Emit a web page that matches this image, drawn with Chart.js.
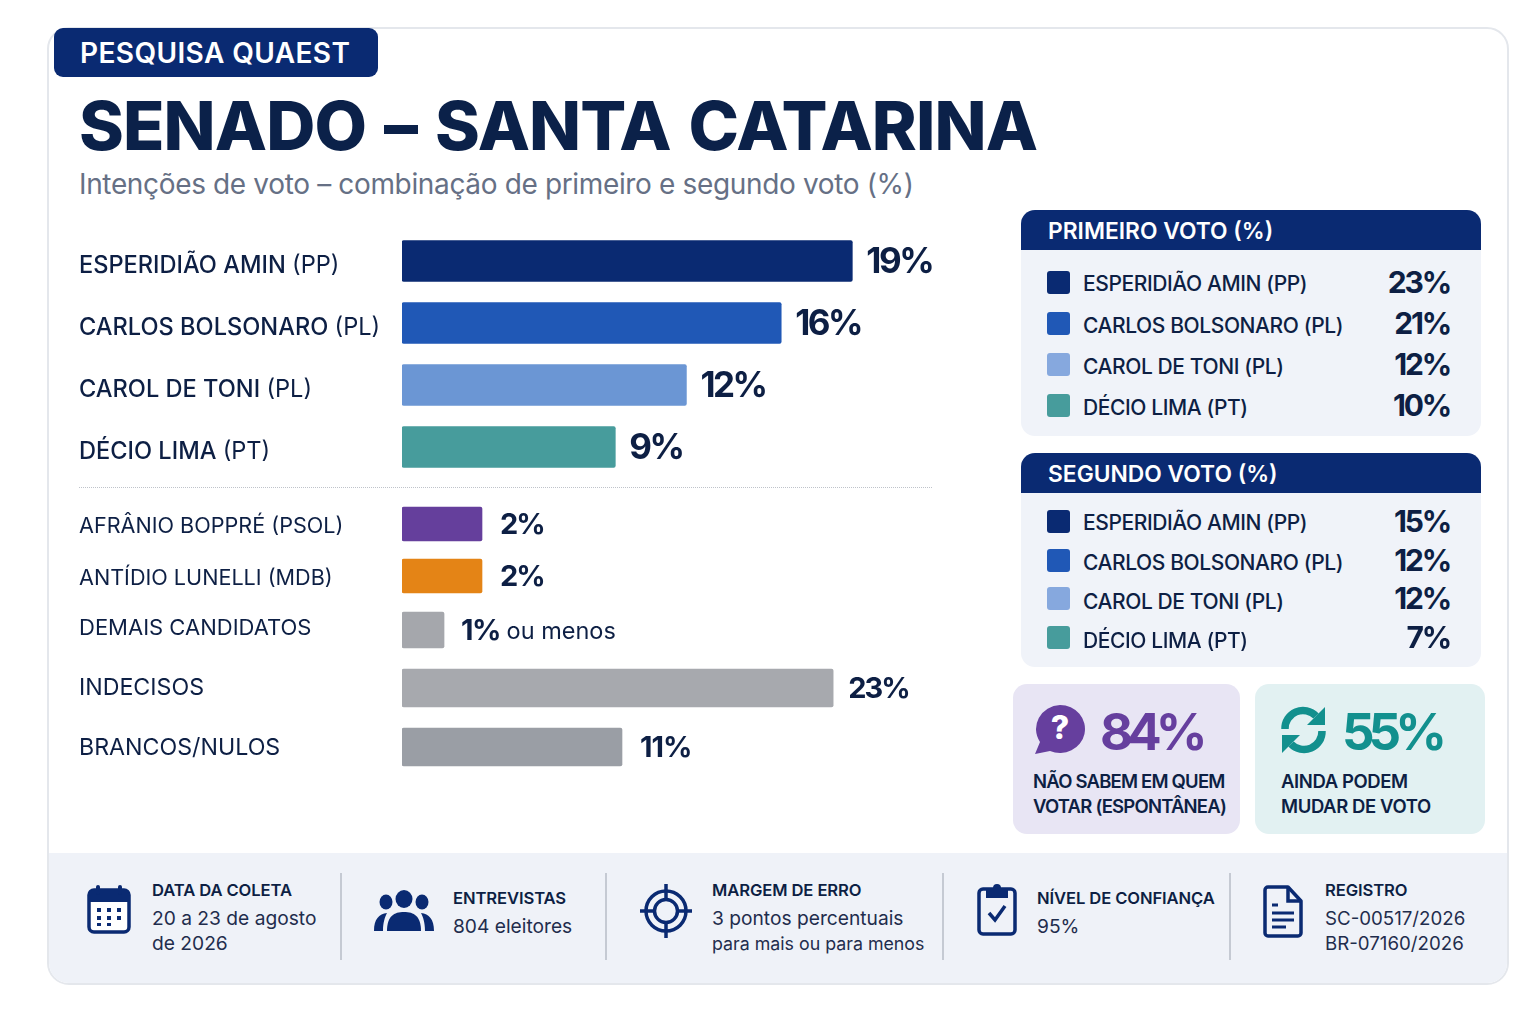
<!DOCTYPE html>
<html lang="pt">
<head>
<meta charset="utf-8">
<title>Senado - Santa Catarina</title>
<script src="https://cdn.jsdelivr.net/npm/chart.js@4"></script>
<style>
	html, body { margin: 0; background: #fff; }
	body { position: relative; width: 1536px; height: 1024px; overflow: hidden; font-family: Inter, sans-serif; color: #0d1f44; }
	.abs { position: absolute; }
	.txt { position: absolute; white-space: nowrap; transform: translateY(-50%); line-height: 1; }
	#card { left: 47px; top: 27px; width: 1458px; height: 954px; border: 2px solid #e4e7ec; border-radius: 22px; overflow: hidden; }
	#foot { left: 0; right: 0; bottom: 0; height: 130px; background: #eff2f8; }
	#badge { left: 54px; top: 28px; width: 324px; height: 49px; background: #0a2a72; border-radius: 9px; }
	canvas { position: absolute; }
</style>
</head>
<body>
<div class="abs" id="card"><div class="abs" id="foot"></div></div>
<div class="abs" id="badge"></div>
<div id="layer"></div>

<script>
// DATA
// ================================================================
var title = 'SENADO – SANTA CATARINA';
var subtitle = 'Intenções de voto – combinação de primeiro e segundo voto (%)';

var candidates = ['ESPERIDIÃO AMIN', 'CARLOS BOLSONARO', 'CAROL DE TONI', 'DÉCIO LIMA', 'AFRÂNIO BOPPRÉ', 'ANTÍDIO LUNELLI', 'DEMAIS CANDIDATOS', 'INDECISOS', 'BRANCOS/NULOS'];
var parties = ['(PP)', '(PL)', '(PL)', '(PT)', '(PSOL)', '(MDB)', '', '', ''];
var combined = [19, 16, 12, 9, 2, 2, 1, 23, 11];
var valueSuffix = ['', '', '', '', '', '', ' ou menos', '', ''];
var barColors = ['#0a2a72', '#2058b6', '#6b96d4', '#479c9c', '#653f9c', '#e48416', '#a5a7ac', '#a7a9ae', '#9a9ea5'];

var panelNames = ['ESPERIDIÃO AMIN (PP)', 'CARLOS BOLSONARO (PL)', 'CAROL DE TONI (PL)', 'DÉCIO LIMA (PT)'];
var panelColors = ['#0a2a72', '#2058b6', '#86a8de', '#479c9c'];
var firstVote = [23, 21, 12, 10];
var secondVote = [15, 12, 12, 7];

var dontKnow = 84;
var mayChange = 55;

var footTitles = ['DATA DA COLETA', 'ENTREVISTAS', 'MARGEM DE ERRO', 'NÍVEL DE CONFIANÇA', 'REGISTRO'];
var footLines = [
	['20 a 23 de agosto', 'de 2026'],
	['804 eleitores'],
	['3 pontos percentuais', 'para mais ou para menos'],
	['95%'],
	['SC-00517/2026', 'BR-07160/2026']
];


// Layout
// ================================================================
var layer = document.getElementById('layer');
var AXIS_WIDTH = 323, CHART_LEFT = 79, CHART_WIDTH = 861;

function put(text, x, y, css) {
	var el = document.createElement('div');
	el.className = 'txt';
	el.textContent = text;
	el.style.cssText = 'left:' + x + 'px;top:' + y + 'px;' + css;
	layer.appendChild(el);
	return el;
}

function box(x, y, w, h, css) {
	var el = document.createElement('div');
	el.className = 'abs';
	el.style.cssText = 'left:' + x + 'px;top:' + y + 'px;width:' + w + 'px;height:' + h + 'px;' + css;
	layer.appendChild(el);
}

function icon(x, y, w, h, inner) {
	var el = document.createElement('div');
	el.className = 'abs';
	el.style.cssText = 'left:' + x + 'px;top:' + y + 'px;width:' + w + 'px;height:' + h + 'px;';
	el.innerHTML = '<svg xmlns="http://www.w3.org/2000/svg" width="' + w + '" height="' + h + '" viewBox="0 0 ' + w + ' ' + h + '">' + inner + '</svg>';
	layer.appendChild(el);
}

put('PESQUISA QUAEST', 80, 53, 'font-size:28px;font-weight:600;color:#fff;letter-spacing:.4px;');
put(title, 79, 125, 'font-size:68px;font-weight:800;color:#0b2149;letter-spacing:-.9px;word-spacing:4px;');
put(subtitle, 79, 184, 'font-size:28px;font-weight:400;color:#667085;letter-spacing:-.35px;');
box(79, 487, 853, 0, 'border-top:1px dotted #bfc3ca;');


// Bars
// The picture does not keep one scale for all bars, so each block gets its own
// ================================================================
var blocks = [
	{ from: 0, to: 4, top: 230, rowH: 62, bar: 41, xMax: 22.7, font: 23.6, weight: 500, valueFont: 35, spacing: -2.5, gap: 14, shift: 5 },
	{ from: 4, to: 6, top: 498, rowH: 52, bar: 34, xMax: 13.45, font: 21.6, weight: 400, valueFont: 29, spacing: -2, gap: 18, shift: 2 },
	{ from: 6, to: 7, top: 600, rowH: 60, bar: 36, xMax: 12.8, font: 22, weight: 400, valueFont: 29, spacing: -1.5, gap: 17, shift: -2 },
	{ from: 7, to: 8, top: 658, rowH: 60, bar: 38, xMax: 28.7, font: 23.2, weight: 400, valueFont: 29, spacing: -2, gap: 15, shift: 0 },
	{ from: 8, to: 9, top: 717, rowH: 60, bar: 38, xMax: 26.9, font: 23.2, weight: 400, valueFont: 29, spacing: -1, gap: 18, shift: 1 }
];

function barLabels(block) {
	return {
		id: 'barLabels',
		afterDraw: function (chart) {
			var ctx = chart.ctx, meta = chart.getDatasetMeta(0), yAxis = chart.scales.y;
			var shares = chart.data.datasets[0].data;
			ctx.save();
			ctx.textBaseline = 'middle';
			ctx.textAlign = 'left';
			ctx.fillStyle = '#0d1f44';
			meta.data.forEach(function (el, i) {
				var n = block.from + i;
				// value at the end of the bar
				var x = el.x + block.gap;
				ctx.font = '700 ' + block.valueFont + 'px Inter';
				ctx.letterSpacing = block.spacing + 'px';
				var txt = shares[i] + '%';
				ctx.fillText(txt, x, el.y + 1);
				var w = ctx.measureText(txt).width;
				ctx.letterSpacing = '0px';
				if (valueSuffix[n]) {
					ctx.font = '400 23.5px Inter';
					ctx.fillText(valueSuffix[n], x + w, el.y + 2);
				}
				// party after the name on the axis, lighter
				if (parties[n]) {
					ctx.font = block.weight + ' ' + block.font + 'px Inter';
					var nameW = ctx.measureText(candidates[n] + ' ').width;
					ctx.font = '400 ' + block.font + 'px Inter';
					ctx.fillText(parties[n], yAxis.left + nameW, yAxis.getPixelForTick(i) + block.shift);
				}
			});
			ctx.restore();
		}
	};
}

blocks.forEach(function (block) {
	var canvas = document.createElement('canvas');
	var holder = document.createElement('div');
	holder.className = 'abs';
	holder.style.cssText = 'left:' + CHART_LEFT + 'px;top:' + block.top + 'px;width:' + CHART_WIDTH + 'px;height:' + (block.rowH * (block.to - block.from)) + 'px;';
	holder.appendChild(canvas);
	layer.appendChild(holder);

	new Chart(canvas.getContext('2d'), {
		type: 'bar',
		plugins: [barLabels(block)],
		data: {
			labels: candidates.slice(block.from, block.to),
			datasets: [{
				data: combined.slice(block.from, block.to),
				backgroundColor: barColors.slice(block.from, block.to),
				barThickness: block.bar,
				borderRadius: 2,
				borderSkipped: false
			}]
		},
		options: {
			indexAxis: 'y',
			responsive: true,
			maintainAspectRatio: false,
			animation: false,
			layout: { padding: 0 },
			plugins: { legend: { display: false }, tooltip: { enabled: false }, title: { display: false } },
			scales: {
				x: { display: false, min: 0, max: block.xMax },
				y: {
					afterFit: function (scale) {
						scale.width = AXIS_WIDTH;
						scale.paddingTop = 0;
						scale.paddingBottom = 0;
					},
					grid: { display: false, drawTicks: false },
					border: { display: false },
					ticks: {
						crossAlign: 'far',
						padding: 0,
						autoSkip: false,
						labelOffset: block.shift,
						color: '#0d1f44',
						font: { family: 'Inter', size: block.font, weight: block.weight }
					}
				}
			}
		}
	});
});


// Side panels
// ================================================================
function panel(name, y, h, rowText, rowValue, values) {
	box(1021, y, 460, h, 'background:#f0f3f9;border-radius:14px;');
	box(1021, y, 460, 40, 'background:#0a2a72;border-radius:14px 14px 0 0;');
	put(name, 1048, y + 21, 'font-size:22.8px;font-weight:600;color:#fff;');
	panelNames.forEach(function (label, i) {
		box(1047, rowValue[i] - 11, 23, 23, 'background:' + panelColors[i] + ';border-radius:3px;');
		put(label, 1083, rowText[i], 'font-size:21px;font-weight:500;letter-spacing:-.4px;');
		put(values[i] + '%', 1290, rowValue[i], 'width:160px;text-align:right;font-size:30px;font-weight:700;letter-spacing:-2.2px;');
	});
}
panel('PRIMEIRO VOTO (%)', 210, 226, [283, 325, 366, 407], [282, 323, 364, 405], firstVote);
panel('SEGUNDO VOTO (%)', 453, 214, [522, 562, 601, 640], [521, 560, 598, 637], secondVote);


// Stat cards
// ================================================================
box(1013, 684, 227, 150, 'background:#e8e5f4;border-radius:14px;');
box(1255, 684, 230, 150, 'background:#e2f1f2;border-radius:14px;');
put(dontKnow + '%', 1100, 731, 'font-size:51px;font-weight:700;color:#663f9e;letter-spacing:-6px;');
put(mayChange + '%', 1342, 731, 'font-size:51px;font-weight:700;color:#12908e;letter-spacing:-6px;');
['NÃO SABEM EM QUEM', 'VOTAR (ESPONTÂNEA)'].forEach(function (t, i) {
	put(t, 1033, 781 + i * 25, 'font-size:18.5px;font-weight:600;letter-spacing:-.8px;');
});
['AINDA PODEM', 'MUDAR DE VOTO'].forEach(function (t, i) {
	put(t, 1281, 781 + i * 25, 'font-size:18.5px;font-weight:600;letter-spacing:-.4px;');
});
icon(1033, 704, 52, 50,
	'<path fill="#663f9e" d="M27 1a25 24 0 1 1-10 46L2 50l5-12A25 24 0 0 1 27 1z"/>' +
	'<text x="27" y="35" text-anchor="middle" font-family="Inter" font-size="32" font-weight="800" fill="#fff">?</text>');
icon(1280, 705, 47, 50,
	'<g fill="none" stroke="#12908e" stroke-width="7.5">' +
	'<path d="M5 24A18 18 0 0 1 36 11"/><path d="M42 26A18 18 0 0 1 11 39"/></g>' +
	'<path fill="#12908e" d="M45 2v18H27z"/><path fill="#12908e" d="M2 48V30h18z"/>');


// Footer
// ================================================================
[340, 605, 942, 1229].forEach(function (x) {
	box(x, 873, 1.5, 87, 'background:#c5cad3;');
});
var footX = [152, 453, 712, 1037, 1325];
footTitles.forEach(function (t, i) {
	var two = footLines[i].length > 1;
	put(t, footX[i], two ? 890 : 898, 'font-size:16.6px;font-weight:600;letter-spacing:-.1px;');
	footLines[i].forEach(function (line, j) {
		var size = i === 2 && j === 1 ? 17.8 : (i === 4 ? 18.7 : 19.2);
		put(line, footX[i], (two ? 919 : 927) + j * 25, 'font-size:' + size + 'px;color:#1f2d4d;');
	});
});
var navy = '#0a2a72';
icon(87, 884, 44, 50,
	'<rect x="2" y="6" width="40" height="42" rx="5" fill="#fff" stroke="' + navy + '" stroke-width="3.5"/>' +
	'<path fill="' + navy + '" d="M2 18V10a5 5 0 0 1 5-5h30a5 5 0 0 1 5 5v8z"/>' +
	'<rect x="9" y="1" width="4" height="10" rx="2" fill="' + navy + '"/><rect x="31" y="1" width="4" height="10" rx="2" fill="' + navy + '"/>' +
	'<g fill="' + navy + '"><rect x="10" y="24" width="4" height="4"/><rect x="20" y="24" width="4" height="4"/><rect x="30" y="24" width="4" height="4"/>' +
	'<rect x="10" y="32" width="4" height="4"/><rect x="20" y="32" width="4" height="4"/><rect x="30" y="32" width="4" height="4"/>' +
	'<rect x="10" y="39" width="4" height="3"/><rect x="20" y="39" width="4" height="3"/></g>');
icon(374, 890, 60, 42,
	'<g fill="' + navy + '"><ellipse cx="30" cy="9" rx="8.5" ry="9"/><ellipse cx="12" cy="12" rx="6.5" ry="7.5"/><ellipse cx="48" cy="12" rx="6.5" ry="7.5"/>' +
	'<path d="M13 41c0-15 7-19 17-19s17 4 17 19z"/>' +
	'<path d="M0 41c0-12 5-17 13-18-2 4-4 9-4 18z"/><path d="M60 41c0-12-5-17-13-18 2 4 4 9 4 18z"/></g>');
icon(640, 884, 52, 54,
	'<g fill="none" stroke="' + navy + '" stroke-width="3.5"><circle cx="26" cy="27" r="20"/><circle cx="26" cy="27" r="11.5"/>' +
	'<path d="M26 0v16M26 38v16M0 27h16M36 27h16"/></g>');
icon(977, 882, 40, 54,
	'<rect x="2" y="7" width="36" height="45" rx="4" fill="none" stroke="' + navy + '" stroke-width="3.5"/>' +
	'<path fill="' + navy + '" d="M9 6h7a4 4 0 0 1 8 0h7v10H9z"/>' +
	'<path fill="none" stroke="' + navy + '" stroke-width="3.5" d="M12 31l6 7 10-14"/>');
icon(1263, 885, 40, 53,
	'<path fill="none" stroke="' + navy + '" stroke-width="3.5" stroke-linejoin="round" d="M5 2h20l13 14v32a3 3 0 0 1-3 3H5a3 3 0 0 1-3-3V5a3 3 0 0 1 3-3z"/>' +
	'<path fill="none" stroke="' + navy + '" stroke-width="3.5" d="M25 2v14h13"/>' +
	'<path stroke="' + navy + '" stroke-width="3" d="M9 20h6M9 28h22M9 35h22M9 42h14"/>');
</script>
</body>
</html>
